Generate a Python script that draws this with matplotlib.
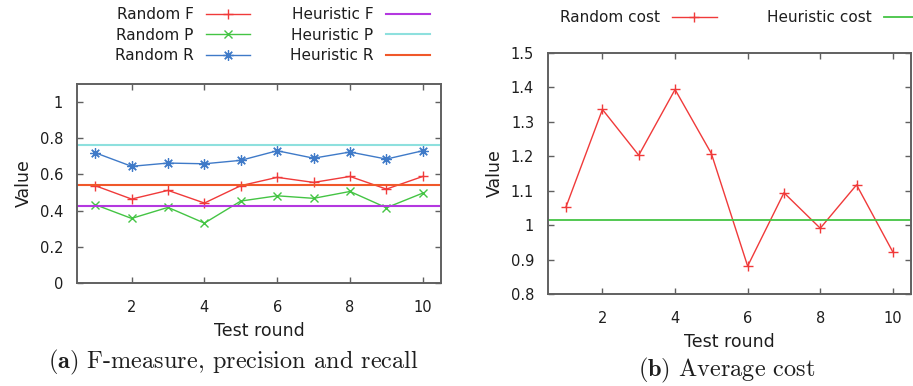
import matplotlib
matplotlib.use("Agg")
import matplotlib.pyplot as plt

rounds = [1, 2, 3, 4, 5, 6, 7, 8, 9, 10]
random_f = [0.538, 0.464, 0.512, 0.442, 0.538, 0.584, 0.556, 0.589, 0.519, 0.589]
random_p = [0.433, 0.357, 0.418, 0.331, 0.453, 0.482, 0.468, 0.506, 0.416, 0.497]
random_r = [0.720, 0.645, 0.663, 0.659, 0.678, 0.731, 0.690, 0.724, 0.685, 0.731]
heuristic_f = 0.424
heuristic_p = 0.764
heuristic_r = 0.543

random_cost = [1.054, 1.336, 1.203, 1.394, 1.208, 0.881, 1.094, 0.991, 1.117, 0.922]
heuristic_cost = 1.015

x_ticks = [2, 4, 6, 8, 10]
y_ticks_a = [0, 0.2, 0.4, 0.6, 0.8, 1]
y_labels_a = ["0", "0.2", "0.4", "0.6", "0.8", "1"]
y_ticks_b = [0.8, 0.9, 1.0, 1.1, 1.2, 1.3, 1.4, 1.5]
y_labels_b = ["0.8", "0.9", "1", "1.1", "1.2", "1.3", "1.4", "1.5"]

plt.rcParams['font.family'] = ['DejaVu Sans']

W, H = 913, 386
fig = plt.figure(figsize=(W / 100, H / 100), dpi=100)

def px_axes(x0, y0, x1, y1):
    return fig.add_axes([x0 / W, (H - y1) / H, (x1 - x0) / W, (y1 - y0) / H])

frame_col = '#606060'
text_col = '#1e1e1e'

def style(ax):
    for s in ax.spines.values():
        s.set_color(frame_col)
        s.set_linewidth(1.4)
    ax.tick_params(direction='in', top=True, right=True, length=4, width=1.0,
                   color=frame_col, labelsize=10.5, labelcolor=text_col)
    ax.tick_params(axis='x', pad=12)
    ax.tick_params(axis='y', pad=10)
    ax.set_xticks(x_ticks)
    ax.set_xlim(0.5, 10.5)

RED = '#f03a3a'
GREEN = '#44c444'
BLUE = '#3f7ac8'
PURPLE = '#b438e0'
CYAN = '#8ee0de'
ORANGE = '#f0582a'

leg_kw = dict(markerfirst=False, frameon=False, fontsize=11, handlelength=2.9,
              handletextpad=0.8, labelspacing=0.36, borderpad=0, borderaxespad=0,
              loc='upper left', labelcolor=text_col)

# ---- (a)
ax1 = px_axes(77, 84, 441, 283)
style(ax1)
l1, = ax1.plot(rounds, random_f, color=RED, marker='+', ms=7.5, mew=1.0, lw=1.0, label='Random F')
l2, = ax1.plot(rounds, random_p, color=GREEN, marker='x', ms=6, mew=1.0, lw=1.0, label='Random P')
l3, = ax1.plot(rounds, random_r, color=BLUE, marker=(8, 2, 0), ms=7.5, mew=0.9, lw=1.0, label='Random R')
h1 = ax1.axhline(heuristic_f, color=PURPLE, lw=1.5, label='Heuristic F')
h2 = ax1.axhline(heuristic_p, color=CYAN, lw=1.5, label='Heuristic P')
h3 = ax1.axhline(heuristic_r, color=ORANGE, lw=1.5, label='Heuristic R')
ax1.set_ylim(0, 1.1)
ax1.set_yticks(y_ticks_a)
ax1.set_yticklabels(y_labels_a)
ax1.set_ylabel('Value', fontsize=12.5, labelpad=5, color=text_col)
ax1.set_xlabel('Test round', fontsize=12.5, labelpad=5, color=text_col)
ax1.legend(handles=[l1, l2, l3, h1, h2, h3], ncol=2, columnspacing=2.6,
           bbox_to_anchor=(115 / W, 1 - 7 / H), bbox_transform=fig.transFigure, **leg_kw)

fig.text(233 / W, 1 - 362 / H, r'$\mathbf{(a)}$ F-measure, precision and recall',
         ha='center', va='center', fontsize=17.5, family='cmr10',
         math_fontfamily='cm', color=text_col)

# ---- (b)
ax2 = px_axes(548, 53, 911, 294)
style(ax2)
c1, = ax2.plot(rounds, random_cost, color=RED, marker='+', ms=7.5, mew=1.0, lw=1.0, label='Random cost')
c2 = ax2.axhline(heuristic_cost, color=GREEN, lw=1.3, label='Heuristic cost')
ax2.set_ylim(0.8, 1.5)
ax2.set_yticks(y_ticks_b)
ax2.set_yticklabels(y_labels_b)
ax2.set_ylabel('Value', fontsize=12.5, labelpad=5, color=text_col)
ax2.set_xlabel('Test round', fontsize=12.5, labelpad=5, color=text_col)
ax2.legend(handles=[c1, c2], ncol=2, columnspacing=3.3,
           bbox_to_anchor=(560 / W, 1 - 10 / H), bbox_transform=fig.transFigure, **leg_kw)

fig.text(727 / W, 1 - 370 / H, r'$\mathbf{(b)}$ Average cost',
         ha='center', va='center', fontsize=17.5, family='cmr10',
         math_fontfamily='cm', color=text_col)

fig.savefig('out.png', dpi=100)
